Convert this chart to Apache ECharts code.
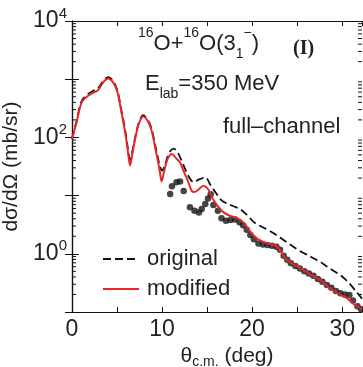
<!DOCTYPE html>
<html>
<head>
<meta charset="utf-8">
<script src="https://cdn.jsdelivr.net/npm/echarts@6/dist/echarts.min.js"></script>
<style>
  html, body { margin: 0; padding: 0; background: #fff; }
  #main { width: 363px; height: 367px; }
</style>
</head>
<body>
<div id="main"></div>
<script>
'use strict';

// theta (deg) and dσ/dΩ (mb/sr)
const modifiedAngle = [0, 0.5, 1.07, 1.8, 2.5, 2.9, 3.3, 3.65, 4.0, 4.4, 4.8, 5.1, 5.5, 5.9, 6.2, 6.45, 6.7, 7.0, 7.4, 7.9,
  8.5, 8.9, 9.2, 9.5, 9.75, 9.95, 10.2, 10.5, 10.8, 11.1, 11.5, 12.0, 12.4, 12.8, 13.3, 13.6, 14.0, 14.6, 15.1, 15.6,
  16.2, 16.8, 17.5, 18.2, 18.7, 19.2, 19.8, 20.4, 20.9, 21.5, 22.1, 22.6, 23.1, 23.6, 24.2, 24.8, 25.4, 26.0, 26.6,
  27.2, 27.7, 28.3, 28.9, 29.5, 30.0, 30.6, 31.2, 31.7, 32.2];
const modifiedValue = [93, 180, 400, 520, 600, 650, 810, 950, 1030, 950, 760, 560, 265, 123, 58, 33, 52, 93, 167, 228,
  180, 120, 71, 42, 26, 17.5, 25, 38, 48, 52, 45, 37, 26, 19, 12, 11.5, 12.5, 14.8, 13, 9,
  6.5, 5.2, 4.5, 4.2, 3.8, 3.2, 2.4, 1.9, 1.7, 1.55, 1.45, 1.38, 1.15, 0.88, 0.72, 0.63, 0.56, 0.49, 0.43,
  0.38, 0.34, 0.28, 0.24, 0.21, 0.19, 0.17, 0.14, 0.125, 0.11];

const originalAngle = [0, 0.5, 1.07, 1.8, 2.5, 2.9, 3.3, 3.65, 4.0, 4.4, 4.8, 5.1, 5.5, 5.9, 6.2, 6.45, 6.7, 7.0, 7.4, 7.9,
  8.5, 8.9, 9.2, 9.5, 9.75, 10.0, 10.3, 10.6, 10.9, 11.3, 11.7, 12.1, 12.5, 12.9, 13.5, 14.1, 14.8, 15.4, 16.0, 16.6,
  17.3, 18.0, 18.7, 19.4, 20.2, 20.9, 21.5, 22.3, 23.1, 23.8, 24.5, 25.5, 26.2, 26.8, 27.6, 28.2, 28.7, 29.3, 29.8,
  30.3, 30.8, 31.5, 32.2];
const originalValue = [95, 190, 420, 560, 650, 700, 860, 1000, 1080, 1000, 800, 590, 285, 135, 66, 42, 58, 98, 175, 240,
  190, 128, 78, 48, 32, 27, 33, 46, 58, 64, 56, 42, 30, 22, 17, 19, 20.5, 15, 11, 8.3,
  7.2, 6.5, 5.8, 4.7, 3.5, 3.0, 2.7, 2.3, 1.9, 1.6, 1.35, 1.07, 0.95, 0.84, 0.72, 0.62, 0.55, 0.48, 0.43,
  0.37, 0.31, 0.23, 0.17];

const dataAngle = [10.9, 11.1, 11.6, 12.0, 12.4, 13.1, 13.6, 14.1, 14.4, 14.8, 15.1, 15.4, 15.7, 16.2, 16.6, 17.1,
  17.6, 18.1, 18.6, 19.0, 19.4, 19.8, 20.2, 20.7, 21.2, 21.7, 22.2, 22.7, 23.1, 23.5, 23.9, 24.3, 24.8, 25.3,
  25.8, 26.3, 26.8, 27.3, 27.8, 28.3, 28.8, 29.3, 29.8, 30.3, 30.8, 31.2, 31.7, 32.1];
const dataValue = [10.7, 14.5, 17.0, 17.4, 12.0, 6.3, 5.5, 5.1, 5.9, 7.2, 8.9, 10.5, 6.9, 5.5, 4.1, 3.7,
  3.8, 3.9, 3.5, 3.1, 2.6, 2.1, 1.78, 1.51, 1.45, 1.41, 1.38, 1.32, 1.17, 0.93, 0.79, 0.69, 0.62, 0.56,
  0.50, 0.46, 0.42, 0.37, 0.33, 0.29, 0.26, 0.23, 0.21, 0.20, 0.195, 0.158, 0.126, 0.112];

// axis ranges and log-axis minor tick values
const xMin = 0, xMax = 32.2;
const yMin = 0.1, yMax = 10000;
const minorTicks = [];
for (let e = -1; e < 4; e++) {
  for (let m = 2; m <= 9; m++) minorTicks.push(m * Math.pow(10, e));
}

const zip = (a, b) => a.map((v, i) => [v, b[i]]);
const FONT = 'Liberation Sans';
const INK = '#222';

const chart = echarts.init(document.getElementById('main'), null, { renderer: 'canvas' });

const supRich = {
  n: { fontSize: 22, lineHeight: 35, fontFamily: FONT, fontWeight: 'normal', color: INK },
  s: { fontSize: 14, lineHeight: 14, fontFamily: FONT, fontWeight: 'normal', color: INK, verticalAlign: 'top' },
  u: { fontSize: 14, lineHeight: 14, fontFamily: FONT, fontWeight: 'normal', color: INK, verticalAlign: 'bottom' }
};

const option = {
  animation: false,
  backgroundColor: '#fff',
  title: [
    {
      text: '{s|16}{n|O+}{s|16}{n|O(3}{u|1}{s|−}{n|)}',
      left: 138, top: 26, padding: 0,
      textStyle: { fontWeight: 'normal', rich: supRich }
    },
    {
      text: '(I)',
      left: 293, top: 39, padding: 0,
      textStyle: { fontFamily: 'Liberation Serif', fontWeight: 'bold', fontSize: 20, color: INK }
    },
    {
      text: '{n|E}{u|lab}{n|=350 MeV}',
      left: 145, top: 66, padding: 0,
      textStyle: { fontWeight: 'normal', rich: supRich }
    },
    {
      text: 'full–channel',
      left: 223, top: 116, padding: 0,
      textStyle: { fontFamily: FONT, fontWeight: 'normal', fontSize: 22, color: INK }
    }
  ],
  legend: {
    data: ['original', 'modified'],
    orient: 'vertical',
    left: 97, top: 243,
    itemWidth: 36, itemHeight: 14, itemGap: 8,
    itemStyle: { opacity: 0 },
    textStyle: { fontFamily: FONT, fontSize: 22, color: INK, lineHeight: 22, padding: [0, 0, 0, 3] }
  },
  grid: { left: 72, right: 1, top: 21, bottom: 55, outerBoundsMode: 'none' },
  xAxis: [
    {
      type: 'value', min: xMin, max: xMax, interval: 5,
      name: '{t|θ}{c|c.m.}{t| (deg)}',
      nameLocation: 'middle', nameGap: 30,
      nameTextStyle: {
        padding: [0, 0, 0, 20],
        rich: {
          t: { fontSize: 21, fontFamily: FONT, color: INK, lineHeight: 26 },
          c: { fontSize: 14, fontFamily: FONT, color: INK, lineHeight: 14, verticalAlign: 'bottom' }
        }
      },
      axisLine: { lineStyle: { color: '#111', width: 1.2 } },
      axisTick: { inside: true, length: 5, lineStyle: { color: '#111', width: 1 } },
      splitLine: { show: false },
      axisLabel: {
        margin: 6, fontSize: 23, fontFamily: FONT, color: INK,
        formatter: v => (Math.abs(v % 10) < 1e-6 ? String(v) : '')
      }
    },
    {
      type: 'value', position: 'top', min: xMin, max: xMax, interval: 5,
      axisLine: { show: true, lineStyle: { color: '#111', width: 1.2 } },
      axisTick: { inside: true, length: 5, lineStyle: { color: '#111', width: 1 } },
      axisLabel: { show: false },
      splitLine: { show: false }
    }
  ],
  yAxis: [
    {
      type: 'log', logBase: 10, min: yMin, max: yMax, splitNumber: 5,
      name: 'dσ/dΩ (mb/sr)',
      nameLocation: 'middle', nameGap: 44,
      nameTextStyle: { fontSize: 21, fontFamily: FONT, color: INK },
      axisLine: { show: true, lineStyle: { color: '#111', width: 1.2 } },
      axisTick: { inside: true, length: 7, lineStyle: { color: '#111', width: 1 } },
      splitLine: { show: false },
      axisLabel: {
        margin: 5,
        formatter: v => {
          const e = Math.round(Math.log10(v));
          return (e >= 0 && e % 2 === 0) ? '{a|10}{b|' + e + '}' : '';
        },
        rich: {
          a: { fontSize: 23, fontFamily: FONT, color: INK, lineHeight: 30 },
          b: { fontSize: 15, fontFamily: FONT, color: INK, lineHeight: 15, verticalAlign: 'top' }
        }
      }
    },
    {
      type: 'log', logBase: 10, position: 'right', min: yMin, max: yMax, splitNumber: 5,
      axisLine: { show: true, lineStyle: { color: '#111', width: 1.2 } },
      axisTick: { inside: true, length: 7, lineStyle: { color: '#111', width: 1 } },
      axisLabel: { show: false },
      splitLine: { show: false }
    }
  ],
  series: [
    {
      name: 'minor ticks',
      type: 'custom',
      silent: true,
      clip: false,
      z: 5,
      encode: { x: 0, y: 1 },
      data: minorTicks.map(v => [xMin, v]),
      renderItem: (params, api) => {
        const v = api.value(1);
        const l = api.coord([xMin, v]);
        const r = api.coord([xMax, v]);
        const st = { stroke: '#111', lineWidth: 1 };
        return {
          type: 'group',
          children: [
            { type: 'line', shape: { x1: l[0], y1: l[1], x2: l[0] + 4, y2: l[1] }, style: st },
            { type: 'line', shape: { x1: r[0], y1: r[1], x2: r[0] - 4, y2: r[1] }, style: st }
          ]
        };
      }
    },
    {
      name: 'data',
      type: 'scatter',
      data: zip(dataAngle, dataValue),
      symbol: 'circle',
      symbolSize: 6.5,
      itemStyle: { color: '#161616' },
      z: 2
    },
    {
      name: 'original',
      type: 'line',
      data: zip(originalAngle, originalValue),
      symbol: 'none',
      smooth: 0.3,
      lineStyle: { color: '#111', width: 1.8, type: [8, 4] },
      itemStyle: { color: '#111' },
      z: 3
    },
    {
      name: 'modified',
      type: 'line',
      data: zip(modifiedAngle, modifiedValue),
      symbol: 'none',
      smooth: 0.3,
      lineStyle: { color: '#e8262a', width: 2 },
      itemStyle: { color: '#e8262a' },
      z: 4
    }
  ]
};

chart.setOption(option);
</script>
</body>
</html>
